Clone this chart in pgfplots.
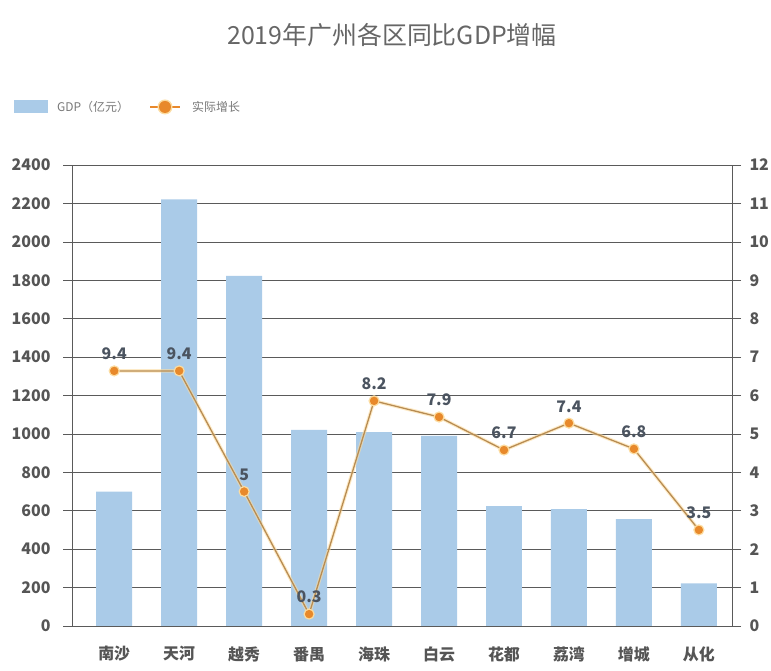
\documentclass[border=0pt]{standalone}
\usepackage{fontspec}
\setmainfont{Noto Sans CJK SC}
\usepackage{pgfplots}
\pgfplotsset{compat=1.18}
\usepackage{pgfplotstable}
\definecolor{barblue}{RGB}{170,203,232}
\definecolor{lineor}{RGB}{184,140,82}
\definecolor{markor}{RGB}{232,137,43}
\definecolor{glow}{RGB}{252,220,160}
\definecolor{txt}{RGB}{85,85,85}
\definecolor{lbl}{RGB}{75,84,96}
\definecolor{gridc}{RGB}{90,90,90}

\pgfplotstableread{
x gdp
0 699
1 2221
2 1823
3 1021
4 1009
5 990
6 624
7 609
8 557
9 222
}\gdptable

% pos = plotted height on the right axis as drawn; lab = printed growth value
\pgfplotstableread{
x pos lab
0 6.64 9.4
1 6.64 9.4
2 3.50 5
3 0.31 0.3
4 5.86 8.2
5 5.44 7.9
6 4.58 6.7
7 5.28 7.4
8 4.61 6.8
9 2.50 3.5
}\growtable

\begin{document}
\begin{tikzpicture}[x=1bp,y=1bp]
\useasboundingbox (0,0) rectangle (771,671);
\begin{axis}[
  at={(72bp,45bp)}, anchor=south west,
  scale only axis, width=660bp, height=461bp,
  xmin=-0.65, xmax=9.51, ymin=0, ymax=2400,
  ytick={0,200,...,2400},
  xtick={0,...,9},
  xticklabels={南沙,天河,越秀,番禺,海珠,白云,花都,荔湾,增城,从化},
  x tick label style={font=\fontsize{16}{18}\selectfont\bfseries, text=txt, yshift=-8bp},
  y tick label style={font=\fontsize{16}{18}\selectfont\bfseries, text=txt, xshift=-9bp},
  /pgf/number format/assume math mode=true,
  /pgf/number format/1000 sep={},
  major x tick style={draw=none},
  major y tick style={draw=gridc, line width=0.6pt},
  major tick length=9bp,
  tick align=outside,
  axis y line*=left,
  axis x line*=bottom,
  x axis line style={draw=gridc, line width=0.6pt, -},
  y axis line style={draw=gridc, line width=0.6pt, -},
  ymajorgrids, grid style={draw=gridc, line width=0.6pt},
  clip=false,
]
\addplot[ybar, bar width=0.554, bar shift=0pt, fill=barblue, draw=none] table[x=x,y=gdp]{\gdptable};
\end{axis}
\begin{axis}[
  at={(72bp,45bp)}, anchor=south west,
  scale only axis, width=660bp, height=461bp,
  xmin=-0.65, xmax=9.51, ymin=0, ymax=12,
  ytick={0,...,12},
  axis y line*=right,
  axis x line=none,
  y tick label style={font=\fontsize{16}{18}\selectfont\bfseries, text=txt, xshift=5bp},
  /pgf/number format/assume math mode=true,
  major y tick style={draw=gridc, line width=0.6pt},
  major tick length=9bp,
  tick align=outside,
  y axis line style={draw=gridc, line width=0.6pt, -},
  clip=false,
]
\addplot[draw=glow, line width=3.5pt, opacity=0.6, mark=none] table[x=x,y=pos]{\growtable};
\addplot[draw=lineor, line width=1.3pt,
  mark=*, mark size=5bp,
  mark options={fill=markor, draw=glow, line width=1.2pt},
  point meta=explicit symbolic,
  nodes near coords,
  every node near coord/.append style={font=\fontsize{16}{18}\selectfont\bfseries, text=lbl, anchor=south, yshift=7bp},
] table[x=x,y=pos,meta=lab]{\growtable};
\end{axis}
\node[text=txt!90, font=\fontsize{25}{28}\selectfont] at (392,636) {2019年广州各区同比GDP增幅};
\fill[barblue] (14,558) rectangle (48,571);
\node[anchor=west, text=txt!80, font=\fontsize{12}{14}\selectfont, inner sep=0] at (57,564) {GDP（亿元）};
\draw[markor, line width=2pt] (150,564) -- (180,564);
\fill[glow] (165,564) circle (7.5);
\fill[markor] (165,564) circle (6);
\node[anchor=west, text=txt!80, font=\fontsize{12}{14}\selectfont, inner sep=0] at (192,564) {实际增长};
\end{tikzpicture}
\end{document}
